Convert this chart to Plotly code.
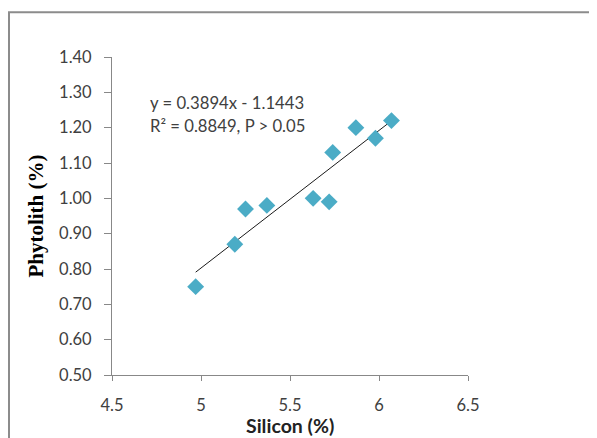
import plotly.graph_objects as go

# Data
silicon = [4.97, 5.19, 5.25, 5.37, 5.63, 5.72, 5.74, 5.87, 5.98, 6.07]
phytolith = [0.75, 0.87, 0.97, 0.98, 1.00, 0.99, 1.13, 1.20, 1.17, 1.22]
slope = 0.3894
intercept = -1.1443
x_ticks = [4.5, 5, 5.5, 6, 6.5]
x_tick_labels = ["4.5", "5", "5.5", "6", "6.5"]
y_ticks = [0.5, 0.6, 0.7, 0.8, 0.9, 1.0, 1.1, 1.2, 1.3, 1.4]
y_tick_labels = ["0.50", "0.60", "0.70", "0.80", "0.90", "1.00", "1.10", "1.20", "1.30", "1.40"]
eq_line1 = "y = 0.3894x - 1.1443"
eq_line2 = "R\u00b2 = 0.8849, P > 0.05"

trend_x = [min(silicon), max(silicon)]
trend_y = [slope * v + intercept for v in trend_x]

W, H = 597, 438
OFF = 8  # page body margin
# target plot area in viewport pixels
PL, PR, PT, PB = 112.3, 467.6, 56.7, 375.0
L = PL - OFF
T = PT - OFF
R_ = W - (PR - OFF)
B = H - (PB - OFF)
pw = PR - PL
ph = PB - PT

def px(xp):
    return (xp - PL) / pw

def py(yp):
    return (PB - yp) / ph

fig = go.Figure()
fig.add_trace(go.Scatter(
    x=trend_x, y=trend_y, mode="lines",
    line=dict(color="#1a1a1a", width=1), hoverinfo="skip", showlegend=False))
fig.add_trace(go.Scatter(
    x=silicon, y=phytolith, mode="markers",
    marker=dict(symbol="diamond", size=13, color="#4BACC6", line=dict(width=0)),
    showlegend=False))

axis_common = dict(
    showgrid=False, zeroline=False, showline=True, linecolor="#888888", linewidth=1,
    ticks="outside", tickcolor="#888888", tickwidth=1,
    tickfont=dict(family="Lato", size=16.5, color="#404040"),
)
fig.update_xaxes(range=[4.5, 6.5], tickvals=x_ticks, ticktext=x_tick_labels,
                 ticklen=5, ticklabelstandoff=10, **axis_common)
fig.update_yaxes(range=[0.5, 1.4], tickvals=y_ticks, ticktext=y_tick_labels,
                 ticklen=7, ticklabelstandoff=9, **axis_common)

fig.add_annotation(text=eq_line1, xref="paper", yref="paper", x=px(148.5), y=py(103),
                   xanchor="left", yanchor="middle", showarrow=False,
                   font=dict(family="Lato", size=16.7, color="#404040"))
fig.add_annotation(text=eq_line2, xref="paper", yref="paper", x=px(148.5), y=py(126),
                   xanchor="left", yanchor="middle", showarrow=False,
                   font=dict(family="Lato", size=16.7, color="#404040"))
fig.add_annotation(text="<b>Silicon (%)</b>", xref="paper", yref="paper", x=0.5, y=py(425.5),
                   xanchor="center", yanchor="middle", showarrow=False,
                   font=dict(family="Lato", size=19.5, color="#222222"))
fig.add_annotation(text="<b>Phytolith (%)</b>", xref="paper", yref="paper", x=px(36), y=0.5,
                   xanchor="center", yanchor="middle", showarrow=False, textangle=-90,
                   font=dict(family="Liberation Serif", size=21, color="#000000"))

fig.add_shape(type="rect", xref="paper", yref="paper",
              x0=px(9.5), y0=py(445), x1=px(605), y1=py(12),
              line=dict(color="#8c8c8c", width=2), fillcolor="rgba(0,0,0,0)", layer="below")

fig.update_layout(
    width=W, height=H,
    margin=dict(l=L, r=R_, t=T, b=B),
    paper_bgcolor="white", plot_bgcolor="white",
)
fig.write_html("out.html")
